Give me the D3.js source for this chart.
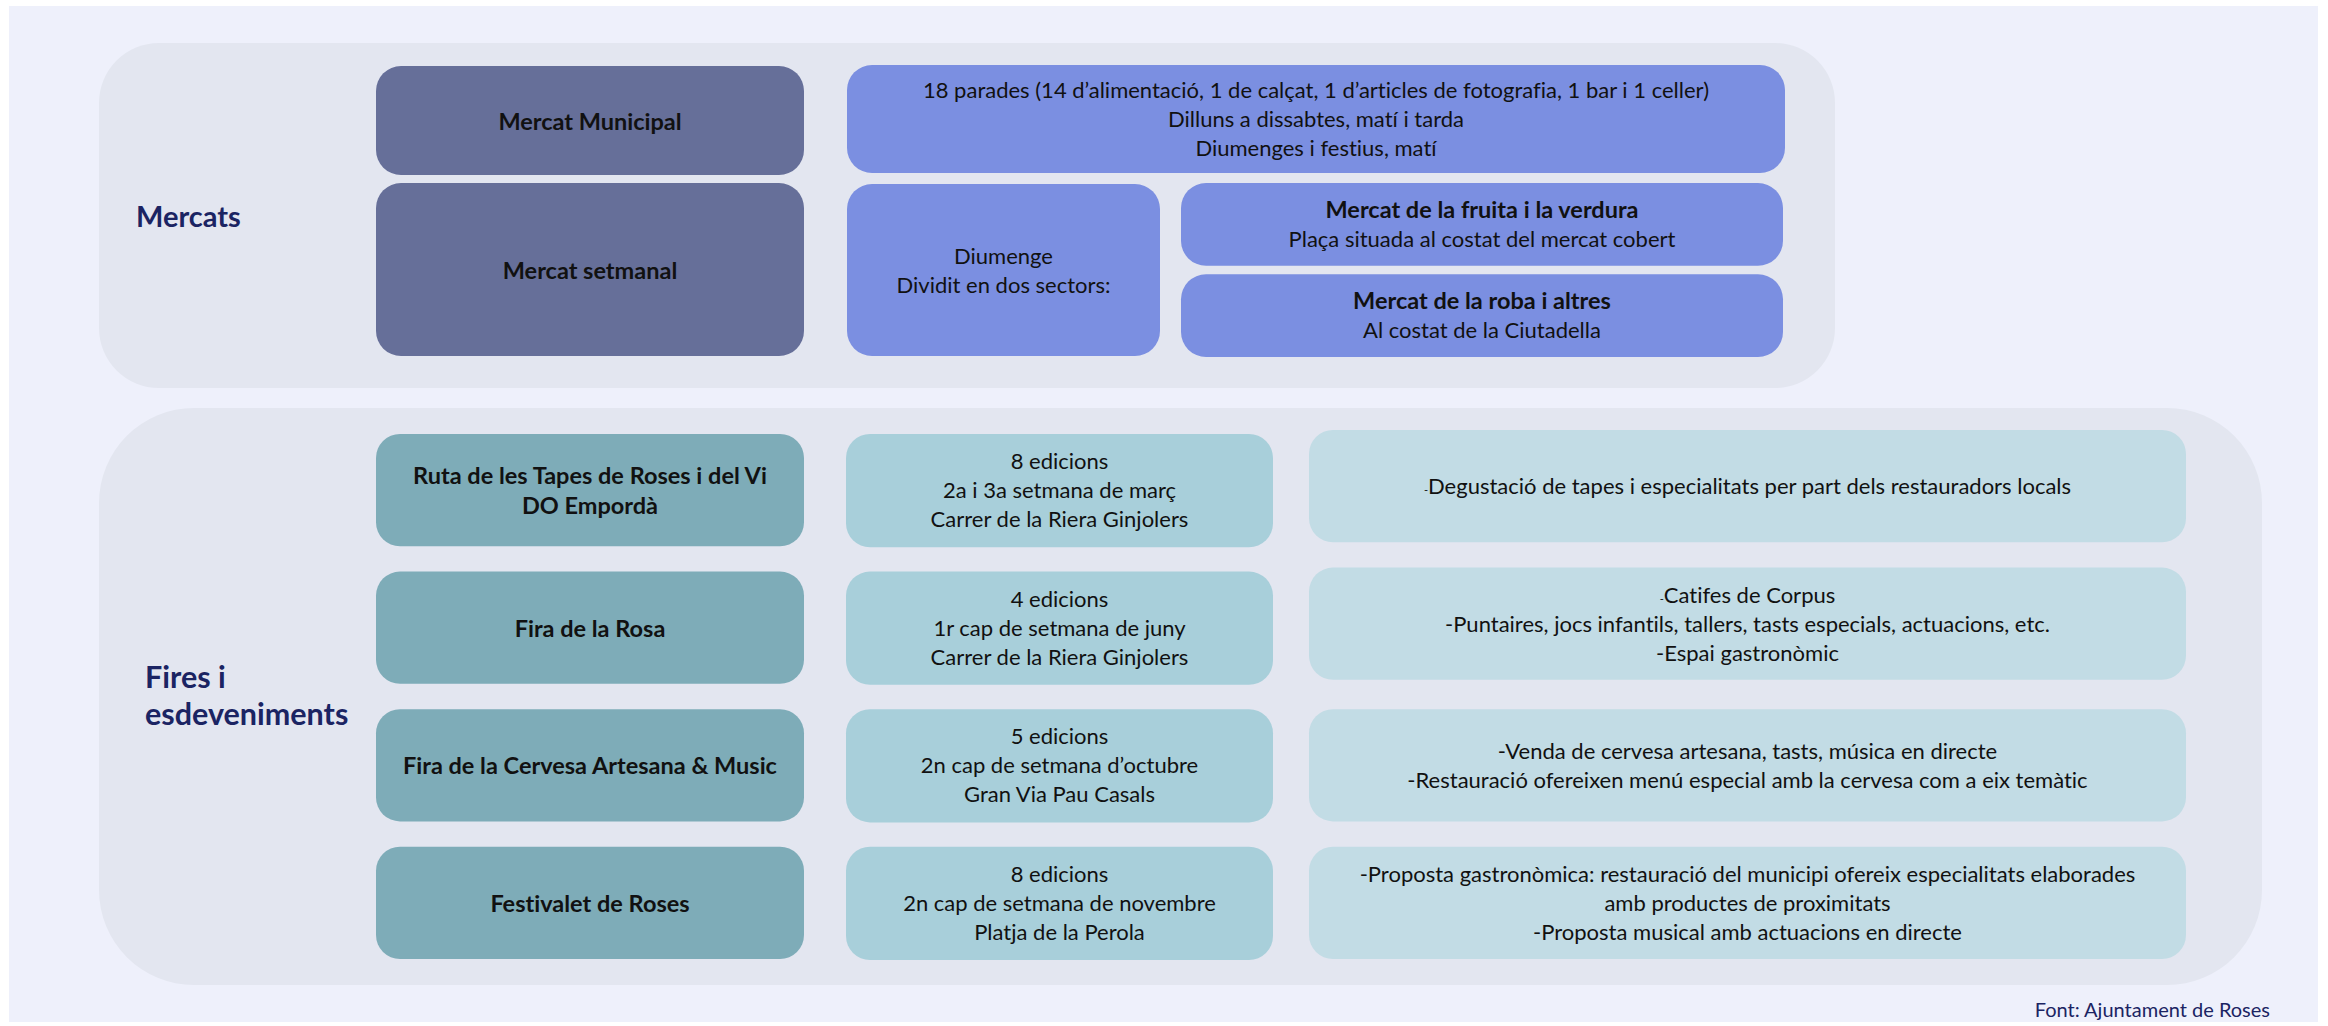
<!DOCTYPE html>
<html>
<head>
<meta charset="utf-8">
<script src="https://cdn.jsdelivr.net/npm/d3@7"></script>
<style>
  html, body { margin: 0; padding: 0; background: #ffffff; }
  svg { display: block; }
  text { font-family: Lato, "Noto Sans", sans-serif; font-variant-ligatures: none; font-feature-settings: "liga" 0, "dlig" 0; }
</style>
</head>
<body>
<script>
// ---------- DATA ----------
const sections = ["Mercats", "Fires i esdeveniments"];
const sectionLabelLines = [["Mercats"], ["Fires i", "esdeveniments"]];

const mercatNames = ["Mercat Municipal", "Mercat setmanal"];
const municipalDetails = [
  "18 parades (14 d\u2019alimentació, 1 de calçat, 1 d\u2019articles de fotografia, 1 bar i 1 celler)",
  "Dilluns a dissabtes, matí i tarda",
  "Diumenges i festius, matí"
];
const setmanalDetails = ["Diumenge", "Dividit en dos sectors:"];
const sectorTitles = ["Mercat de la fruita i la verdura", "Mercat de la roba i altres"];
const sectorPlaces = ["Plaça situada al costat del mercat cobert", "Al costat de la Ciutadella"];

const fireNames = [
  ["Ruta de les Tapes de Roses i del Vi", "DO Empordà"],
  ["Fira de la Rosa"],
  ["Fira de la Cervesa Artesana & Music"],
  ["Festivalet de Roses"]
];
const fireInfo = [
  ["8 edicions", "2a i 3a setmana de març", "Carrer de la Riera Ginjolers"],
  ["4 edicions", "1r cap de setmana de juny", "Carrer de la Riera Ginjolers"],
  ["5 edicions", "2n cap de setmana d\u2019octubre", "Gran Via Pau Casals"],
  ["8 edicions", "2n cap de setmana de novembre", "Platja de la Perola"]
];
const fireActivities = [
  ["-Degustació de tapes i especialitats per part dels restauradors locals"],
  ["-Catifes de Corpus", "-Puntaires, jocs infantils, tallers, tasts especials, actuacions, etc.", "-Espai gastronòmic"],
  ["-Venda de cervesa artesana, tasts, música en directe", "-Restauració ofereixen menú especial amb la cervesa com a eix temàtic"],
  ["-Proposta gastronòmica: restauració del municipi ofereix especialitats elaborades", "amb productes de proximitats", "-Proposta musical amb actuacions en directe"]
];
const sourceNote = "Font: Ajuntament de Roses";

// ---------- STYLE / LAYOUT ----------
const W = 2328, H = 1026;
const C = {
  bg: "#eef0fb", panel: "#e3e6f0", navy: "#1b2463",
  slate: "#666f99", blue: "#7b8fe1",
  teal1: "#7eacb8", teal2: "#a8cfda", teal3: "#c2dce5"
};
const BODY = 22, BOLD = 23.5, LH = 29;
// dash rendered small in a few lines of the original
const smallDash = new Set(["-Degustació de tapes i especialitats per part dels restauradors locals", "-Catifes de Corpus"]);

const svg = d3.select("body").append("svg").attr("width", W).attr("height", H);

svg.append("rect").attr("x", 9).attr("y", 6).attr("width", 2309).attr("height", 1016).attr("fill", C.bg);

// section panels
const panels = [
  {x: 99, y: 43, w: 1736, h: 345, r: 60},
  {x: 99, y: 408, w: 2163, h: 577, r: 95}
];
svg.selectAll("rect.panel").data(panels).join("rect").attr("class", "panel")
  .attr("x", d => d.x).attr("y", d => d.y).attr("width", d => d.w).attr("height", d => d.h)
  .attr("rx", d => d.r).attr("ry", d => d.r).attr("fill", C.panel);

// section labels
const labelPos = [{x: 136, y: 227}, {x: 145, y: 688}];
const labelSize = [29, 30.5];
svg.selectAll("g.seclabel").data(sectionLabelLines).join("g").attr("class", "seclabel")
  .each(function(lines, i) {
    d3.select(this).selectAll("text").data(lines).join("text")
      .attr("x", labelPos[i].x).attr("y", (d, j) => labelPos[i].y + j * 37)
      .attr("font-size", labelSize[i]).attr("font-weight", 700).attr("fill", C.navy)
      .text(d => d);
  });

function box(x0, y0, x1, y1, fill, r = 25) {
  svg.append("rect").attr("x", x0).attr("y", y0).attr("width", x1 - x0).attr("height", y1 - y0)
    .attr("rx", r).attr("ry", r).attr("fill", fill);
}
function lines(arr, cx, cy, opts = {}) {
  const bold = opts.bold;
  const size = opts.size || (bold ? BOLD : BODY);
  const lh = opts.lh || LH;
  const off = bold ? 9 : 8;
  const n = arr.length;
  const t = svg.append("g").selectAll("text").data(arr).join("text")
    .attr("x", cx).attr("y", (d, i) => cy + off + (i - (n - 1) / 2) * lh)
    .attr("text-anchor", "middle").attr("font-size", size)
    .attr("font-weight", bold ? 700 : 400).attr("fill", "#111");
  t.each(function(d) {
    const s = d3.select(this);
    if (smallDash.has(d)) {
      s.append("tspan").attr("font-size", 11).text("-");
      s.append("tspan").text(d.slice(1));
    } else s.text(d);
  });
  return t;
}

// ----- Mercats -----
const mRows = d3.scaleOrdinal().domain(mercatNames).range([[66, 175], [183, 356]]);
mercatNames.forEach(n => {
  const [a, b] = mRows(n);
  box(376, a, 804, b, C.slate);
  lines([n], 590, (a + b) / 2, {bold: true});
});
box(847, 65, 1785, 173, C.blue);
lines(municipalDetails, 1316, 119);
box(847, 184, 1160, 356, C.blue);
lines(setmanalDetails, 1003.5, 270);
const sRows = d3.scaleBand().domain(sectorTitles).range([183, 357]).paddingInner(0.094);
sectorTitles.forEach((t, i) => {
  const a = sRows(t), b = a + sRows.bandwidth();
  box(1181, a, 1783, b, C.blue);
  const tx = lines([t, sectorPlaces[i]], 1482, (a + b) / 2);
  tx.filter((d, j) => j === 0).attr("font-weight", 700).attr("font-size", BOLD);
});

// ----- Fires -----
const fRows = d3.scaleBand().domain(d3.range(fireNames.length)).range([434, 959]).paddingInner(0.184);
fireNames.forEach((nm, i) => {
  const a = fRows(i), b = a + fRows.bandwidth(), cy = (a + b) / 2;
  box(376, a, 804, b, C.teal1, 24);
  lines(nm, 590, cy, {bold: true, lh: 30});
  box(846, a, 1273, b + 1, C.teal2, 24);
  lines(fireInfo[i], 1059.5, cy);
  const sh = i < 2 ? -4 : 0;
  box(1309, a + sh, 2186, b + sh, C.teal3, 24);
  lines(fireActivities[i], 1747.5, cy + sh);
});

svg.append("text").attr("x", 2270).attr("y", 1017).attr("text-anchor", "end")
  .attr("font-size", 20).attr("fill", C.navy).text(sourceNote);
</script>
</body>
</html>
